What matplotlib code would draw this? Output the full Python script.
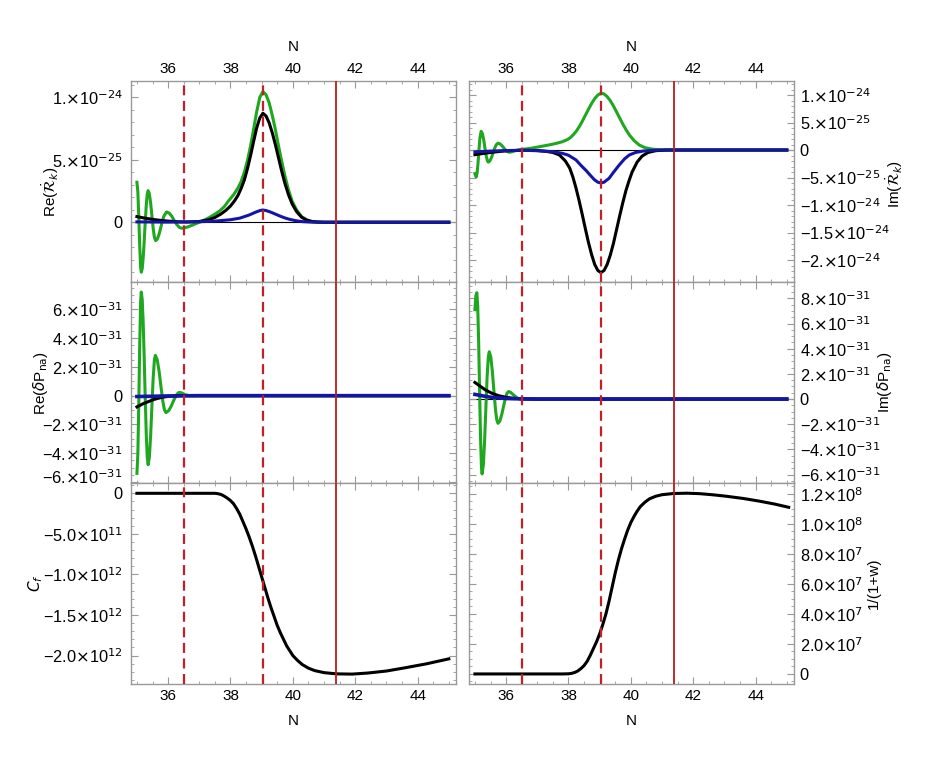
import matplotlib
matplotlib.use("Agg")
import matplotlib.pyplot as plt
import matplotlib.transforms as mtransforms
from matplotlib.ticker import FixedLocator, MultipleLocator

plt.rcParams['font.family'] = ['Liberation Sans', 'DejaVu Sans']
plt.rcParams['mathtext.fontset'] = 'dejavusans'

# ---------------- data (values in the unit noted per panel) ----------------
# reference lines in N
n_dashed = [36.5, 39.04]
n_solid = [41.37]

# top-left: Re(dR_k/dN), units of 1e-25
n_tl_green = [35.00, 35.03, 35.06, 35.09, 35.12, 35.14, 35.17, 35.20, 35.23, 35.26, 35.30, 35.33,
              35.36, 35.40, 35.44, 35.48, 35.52, 35.56, 35.60, 35.65, 35.70, 35.75, 35.80, 35.86,
              35.95, 36.04, 36.12, 36.20, 36.28, 36.36, 36.43, 36.52, 36.62, 36.75, 36.90, 37.05,
              37.20, 37.35, 37.50, 37.65, 37.80, 37.95, 38.10, 38.24, 38.34, 38.44, 38.54, 38.64,
              38.74, 38.84, 38.94, 39.04, 39.14, 39.24, 39.34, 39.44, 39.54, 39.64, 39.74, 39.86,
              39.98, 40.12, 40.28, 40.44, 40.60, 40.77, 41.0, 41.5, 42.5, 43.5, 45.0]
re_r_green = [3.2, 2.42, 0.39, -1.96, -3.64, -4.0, -3.71, -2.87, -1.66, -0.27, 1.40, 2.23,
              2.53, 2.26, 1.53, 0.53, -0.47, -1.2, -1.47, -1.36, -1.04, -0.58, -0.06, 0.47,
              0.83, 0.72, 0.47, 0.13, -0.19, -0.41, -0.48, -0.45, -0.38, -0.26, -0.1, 0.05,
              0.22, 0.42, 0.65, 0.9, 1.25, 1.75, 2.2, 2.75, 3.25, 3.97, 4.9, 6.06,
              7.43, 8.85, 10.0, 10.45, 10.2, 9.55, 8.55, 7.4, 6.1, 4.9, 3.75, 2.58,
              1.66, 0.98, 0.45, 0.2, 0.07, 0.02, 0.0, 0.0, 0.0, 0.0, 0.0]
n_tl_black = [35.0, 35.25, 35.5, 35.75, 36.0, 36.3, 36.6, 37.0, 37.3, 37.5, 37.7, 37.85, 38.0,
              38.14, 38.24, 38.34, 38.44, 38.54, 38.64, 38.74, 38.84, 38.94, 39.04, 39.14, 39.24,
              39.34, 39.44, 39.54, 39.64, 39.74, 39.86, 39.98, 40.12, 40.28, 40.44, 40.6, 40.8,
              41.0, 42.0, 45.0]
re_r_black = [0.45, 0.33, 0.23, 0.15, 0.09, 0.04, 0.02, 0.06, 0.2, 0.38, 0.67, 0.95, 1.3,
              1.75, 2.15, 2.7, 3.35, 4.25, 5.3, 6.45, 7.55, 8.35, 8.72, 8.5, 7.95,
              7.15, 6.2, 5.15, 4.1, 3.15, 2.2, 1.45, 0.85, 0.4, 0.17, 0.06, 0.015,
              0.0, 0.0, 0.0]
n_tl_blue = [35.0, 36.0, 37.0, 37.5, 38.0, 38.3, 38.6, 38.8, 38.95, 39.04, 39.15, 39.3, 39.45,
             39.6, 39.75, 39.9, 40.1, 40.3, 40.6, 41.0, 45.0]
re_r_blue = [0.03, 0.01, 0.04, 0.09, 0.2, 0.33, 0.58, 0.8, 0.94, 0.98, 0.93, 0.8, 0.64,
             0.48, 0.34, 0.23, 0.12, 0.05, 0.01, 0.0, 0.0]

# top-right: Im(dR_k/dN), units of 1e-25
n_tr_green = [35.00, 35.04, 35.07, 35.10, 35.13, 35.16, 35.20, 35.24, 35.28, 35.32, 35.36, 35.40,
              35.43, 35.48, 35.53, 35.58, 35.63, 35.68, 35.74, 35.80, 35.86, 35.92, 35.98, 36.04,
              36.10, 36.20, 36.30, 36.40, 36.50, 36.80, 37.07, 37.40, 37.60, 37.80, 37.95, 38.05,
              38.15, 38.24, 38.34, 38.44, 38.54, 38.64, 38.74, 38.84, 38.94, 39.04, 39.14, 39.24,
              39.34, 39.44, 39.54, 39.64, 39.74, 39.84, 39.96, 40.10, 40.27, 40.45, 40.70, 41.0,
              41.37, 45.0]
im_r_green = [-4.3, -4.9, -4.2, -2.34, 0.06, 2.18, 3.4, 2.99, 1.89, 0.4, -1.02, -1.97,
              -2.2, -1.98, -1.38, -0.56, 0.28, 0.93, 1.25, 1.14, 0.84, 0.43, 0.01, -0.29,
              -0.4, -0.3, -0.12, 0.02, 0.1, 0.32, 0.6, 0.95, 1.2, 1.5, 1.85, 2.2,
              2.75, 3.35, 4.2, 5.2, 6.3, 7.4, 8.45, 9.35, 10.0, 10.35, 10.19, 9.71,
              8.97, 8.02, 6.94, 5.83, 4.74, 3.73, 2.68, 1.73, 0.9, 0.43, 0.15, 0.04,
              0.0, 0.0]
n_tr_black = [35.0, 35.3, 35.6, 35.9, 36.2, 36.5, 36.8, 37.0, 37.28, 37.5, 37.71, 37.9, 38.04,
              38.14, 38.24, 38.34, 38.44, 38.54, 38.64, 38.74, 38.84, 38.94, 39.04, 39.14, 39.24,
              39.34, 39.44, 39.54, 39.64, 39.74, 39.84, 39.94, 40.04, 40.2, 40.36, 40.55, 40.8,
              41.1, 41.5, 45.0]
im_r_black = [-0.85, -0.6, -0.38, -0.2, -0.1, -0.05, -0.07, -0.1, -0.25, -0.45, -0.9, -2.0, -3.3,
              -4.9, -6.9, -9.2, -11.7, -14.3, -16.8, -19.0, -20.8, -21.9, -22.3, -21.9, -20.8,
              -19.1, -17.0, -14.5, -12.0, -9.6, -7.4, -5.6, -4.0, -2.2, -1.1, -0.45, -0.12,
              -0.02, 0.0, 0.0]
n_tr_blue = [35.0, 35.5, 36.0, 36.5, 37.0, 37.5, 37.8, 38.0, 38.24, 38.4, 38.56, 38.7, 38.83,
             38.94, 39.04, 39.14, 39.3, 39.45, 39.63, 39.8, 39.95, 40.15, 40.38, 40.7, 41.2, 45.0]
im_r_blue = [-0.35, -0.2, -0.1, -0.05, -0.12, -0.3, -0.6, -0.95, -1.8, -2.8, -3.7, -4.6, -5.4,
             -5.85, -6.0, -5.85, -5.15, -4.0, -2.7, -1.6, -0.9, -0.45, -0.2, -0.05, 0.0, 0.0]

# middle-left: Re(dP_na), units of 1e-31
n_ml_green = [35.00, 35.03, 35.06, 35.09, 35.12, 35.14, 35.17, 35.20, 35.23, 35.26, 35.30, 35.33,
              35.36, 35.40, 35.44, 35.48, 35.52, 35.56, 35.59, 35.65, 35.71, 35.77, 35.83, 35.88,
              35.93, 36.02, 36.10, 36.18, 36.26, 36.32, 36.37, 36.45, 36.55, 36.70, 37.0, 45.0]
re_p_green = [-5.4, -4.03, -0.5, 3.63, 6.58, 7.2, 6.66, 5.13, 2.89, 0.35, -2.72, -4.25,
              -4.8, -4.24, -2.75, -0.73, 1.2, 2.48, 2.8, 2.5, 1.71, 0.63, -0.38, -0.97,
              -1.18, -1.04, -0.725, -0.325, 0.02, 0.19, 0.23, 0.18, 0.06, 0.0, 0.0, 0.0]
n_ml_black = [35.0, 35.2, 35.36, 35.55, 35.79, 36.0, 36.3, 36.6, 45.0]
re_p_black = [-0.78, -0.56, -0.42, -0.26, -0.12, -0.05, -0.01, 0.0, 0.0]
n_ml_blue = [35.0, 36.0, 37.0, 45.0]
re_p_blue = [-0.06, -0.02, 0.0, 0.0]

# middle-right: Im(dP_na), units of 1e-31
n_mr_green = [35.00, 35.03, 35.06, 35.09, 35.12, 35.15, 35.18, 35.21, 35.23, 35.27, 35.31, 35.35,
              35.39, 35.43, 35.46, 35.51, 35.56, 35.61, 35.66, 35.70, 35.74, 35.80, 35.86, 35.92,
              35.98, 36.03, 36.08, 36.15, 36.25, 36.35, 36.45, 37.0, 45.0]
im_p_green = [7.1, 8.2, 8.45, 7.38, 4.49, 0.59, -3.07, -5.46, -5.95, -5.24, -3.33, -0.76,
              1.72, 3.36, 3.76, 3.33, 2.15, 0.6, -0.86, -1.65, -1.93, -1.74, -1.23, -0.55,
              0.09, 0.47, 0.6, 0.52, 0.3, 0.1, 0.0, 0.0, 0.0]
n_mr_black = [35.0, 35.15, 35.34, 35.55, 35.77, 36.0, 36.2, 36.5, 37.0, 45.0]
im_p_black = [1.32, 1.05, 0.72, 0.45, 0.26, 0.14, 0.07, 0.02, 0.0, 0.0]
n_mr_blue = [35.0, 35.25, 35.55, 35.9, 36.2, 36.6, 37.0, 45.0]
im_p_blue = [0.37, 0.25, 0.13, 0.06, 0.03, 0.01, 0.0, 0.0]

# bottom-left: C_f, units of 1e12
n_cf = [35.0, 36.0, 37.0, 37.5, 37.6, 37.7, 37.8, 37.9, 38.0, 38.1, 38.2, 38.3, 38.4, 38.5,
        38.6, 38.7, 38.8, 38.9, 39.0, 39.1, 39.2, 39.3, 39.4, 39.5, 39.6, 39.7, 39.8, 39.9,
        40.0, 40.15, 40.3, 40.5, 40.7, 41.0, 41.4, 41.9, 42.4, 43.0, 43.6, 44.3, 45.0]
c_f = [0.0, 0.0, 0.0, 0.0, -0.005, -0.015, -0.035, -0.06, -0.09, -0.13, -0.19, -0.26, -0.35, -0.44,
       -0.54, -0.65, -0.77, -0.9, -1.03, -1.16, -1.29, -1.41, -1.52, -1.63, -1.72, -1.8, -1.88, -1.94,
       -2.0, -2.06, -2.11, -2.155, -2.185, -2.21, -2.225, -2.228, -2.215, -2.19, -2.15, -2.1, -2.04]

# bottom-right: 1/(1+w), units of 1e7
n_w = [35.0, 36.0, 37.0, 37.8, 38.0, 38.1, 38.2, 38.3, 38.4, 38.5, 38.6, 38.7, 38.8, 38.9,
       39.0, 39.1, 39.2, 39.3, 39.4, 39.5, 39.6, 39.7, 39.8, 39.9, 40.0, 40.1, 40.2, 40.3,
       40.45, 40.6, 40.8, 41.0, 41.37, 41.8, 42.2, 42.6, 43.05, 43.6, 44.12, 44.6, 45.06]
inv_w = [0.0, 0.0, 0.0, 0.0, 0.01, 0.04, 0.1, 0.2, 0.36, 0.56, 0.85, 1.25, 1.7, 2.15,
         2.68, 3.3, 4.0, 4.85, 5.8, 6.75, 7.6, 8.35, 9.0, 9.6, 10.1, 10.5, 10.85, 11.15,
         11.45, 11.68, 11.85, 11.95, 12.03, 12.05, 12.02, 11.95, 11.85, 11.7, 11.52, 11.33, 11.11]

# ticks
x_ticks = [36, 38, 40, 42, 44]
X = r'$\times$'
tl_ticks = [0, 5, 10]
tl_labels = ['0', '5.' + X + '10$^{-25}$', '1.' + X + '10$^{-24}$']
tr_ticks = [-20, -15, -10, -5, 0, 5, 10]
tr_labels = ['−2.' + X + '10$^{-24}$', '−1.5' + X + '10$^{-24}$', '−1.' + X + '10$^{-24}$',
             '−5.' + X + '10$^{-25}$', '0', '5.' + X + '10$^{-25}$', '1.' + X + '10$^{-24}$']
ml_ticks = [-6, -4, -2, 0, 2, 4, 6]
ml_labels = ['−6.' + X + '10$^{-31}$', '−4.' + X + '10$^{-31}$', '−2.' + X + '10$^{-31}$', '0',
             '2.' + X + '10$^{-31}$', '4.' + X + '10$^{-31}$', '6.' + X + '10$^{-31}$']
mr_ticks = [-6, -4, -2, 0, 2, 4, 6, 8]
mr_labels = ['−6.' + X + '10$^{-31}$', '−4.' + X + '10$^{-31}$', '−2.' + X + '10$^{-31}$', '0',
             '2.' + X + '10$^{-31}$', '4.' + X + '10$^{-31}$', '6.' + X + '10$^{-31}$',
             '8.' + X + '10$^{-31}$']
bl_ticks = [-2.0, -1.5, -1.0, -0.5, 0]
bl_labels = ['−2.0' + X + '10$^{12}$', '−1.5' + X + '10$^{12}$', '−1.0' + X + '10$^{12}$',
             '−5.0' + X + '10$^{11}$', '0']
br_ticks = [0, 2, 4, 6, 8, 10, 12]
br_labels = ['0', '2.0' + X + '10$^{7}$', '4.0' + X + '10$^{7}$', '6.0' + X + '10$^{7}$',
             '8.0' + X + '10$^{7}$', '1.0' + X + '10$^{8}$', '1.2' + X + '10$^{8}$']

GREEN = '#1fa81f'
BLACK = '#000000'
BLUE = '#1414a8'
RED_D = '#c0202a'
RED_S = '#b81c1c'
FRAME = '#999999'
FS = 11
FS_Y = 11.75

fig = plt.figure(figsize=(9.26, 7.66), dpi=100)
W, H = 926.0, 766.0
cols = [131, 469]
rows = [(81, 282), (282, 483), (483, 684)]
axes = {}
for r, (y0, y1) in enumerate(rows):
    for c, x0 in enumerate(cols):
        axes[(r, c)] = fig.add_axes([x0 / W, 1 - y1 / H, 325 / W, (y1 - y0) / H])


def style(ax, right, xpos, yt, yl, ylim, yminor, ylabel, lab_x, lab_y=0.5):
    ax.set_xlim(34.81, 45.23)
    ax.set_ylim(*ylim)
    for s in ax.spines.values():
        s.set_color(FRAME)
        s.set_linewidth(1.0)
    ax.xaxis.set_major_locator(FixedLocator(x_ticks))
    ax.xaxis.set_minor_locator(MultipleLocator(0.5))
    ax.yaxis.set_major_locator(FixedLocator(yt))
    ax.yaxis.set_minor_locator(MultipleLocator(yminor))
    ax.set_yticklabels(yl)
    ax.tick_params(which='both', direction='in', top=True, bottom=True, left=True, right=True,
                   color=FRAME)
    ax.tick_params(axis='x', labelsize=FS)
    ax.tick_params(axis='y', labelsize=FS_Y)
    ax.tick_params(which='major', length=5)
    ax.tick_params(which='minor', length=2.5)
    ax.tick_params(axis='x', labelbottom=(xpos == 'bottom'), labeltop=(xpos == 'top'))
    if xpos == 'top':
        ax.xaxis.set_label_position('top')
        ax.set_xlabel('N', fontsize=FS, labelpad=8)
    elif xpos == 'bottom':
        ax.set_xlabel('N', fontsize=FS, labelpad=8)
    if right:
        ax.tick_params(axis='y', labelleft=False, labelright=True, pad=4)
        ax.yaxis.set_label_position('right')
    else:
        ax.tick_params(axis='y', pad=6)
    ax.set_ylabel(ylabel, fontsize=FS)
    ax.yaxis.set_label_coords(lab_x, lab_y)


def refs(ax):
    for n in n_dashed:
        ax.axvline(n, color=RED_D, lw=1.6, ls=(0, (4.5, 2.5)), zorder=5)
    for n in n_solid:
        ax.axvline(n, color=RED_S, lw=1.3, zorder=5)


lw = 2.2

ax = axes[(0, 0)]
ax.axhline(0, color='black', lw=0.8, zorder=1)
ax.plot(n_tl_green, re_r_green, color=GREEN, lw=lw, zorder=2)
ax.plot(n_tl_black, re_r_black, color=BLACK, lw=lw, zorder=3)
ax.plot(n_tl_blue, re_r_blue, color=BLUE, lw=lw, zorder=4)
refs(ax)
style(ax, False, 'top', tl_ticks, tl_labels, (-4.78, 11.3), 1, r'Re($\dot{\mathcal{R}}_k$)',
      -0.215, 0.45)

ax = axes[(0, 1)]
ax.axhline(0, color='black', lw=0.8, zorder=1)
ax.plot(n_tr_green, im_r_green, color=GREEN, lw=lw, zorder=2)
ax.plot(n_tr_black, im_r_black, color=BLACK, lw=lw, zorder=3)
ax.plot(n_tr_blue, im_r_blue, color=BLUE, lw=lw, zorder=4)
refs(ax)
style(ax, True, 'top', tr_ticks, tr_labels, (-24.0, 12.55), 1, r'Im($\dot{\mathcal{R}}_k$)',
      1.275, 0.49)

ax = axes[(1, 0)]
ax.axhline(0, color='black', lw=0.8, zorder=1)
ax.plot(n_ml_green, re_p_green, color=GREEN, lw=lw, zorder=2)
ax.plot(n_ml_black, re_p_black, color=BLACK, lw=lw, zorder=3)
ax.plot(n_ml_blue, re_p_blue, color=BLUE, lw=lw + 0.4, zorder=4)
refs(ax)
style(ax, False, None, ml_ticks, ml_labels, (-6.07, 7.9), 0.5, r'Re($\delta$P$_{\mathrm{na}}$)',
      -0.25)
# nudge the lowest label up so it clears the "0" of the panel below
low = ax.get_yticklabels()[0]
low.set_transform(low.get_transform() + mtransforms.ScaledTranslation(0, 4.5 / 72, fig.dpi_scale_trans))

ax = axes[(1, 1)]
ax.axhline(0, color='black', lw=0.8, zorder=1)
ax.plot(n_mr_green, im_p_green, color=GREEN, lw=lw, zorder=2)
ax.plot(n_mr_black, im_p_black, color=BLACK, lw=lw, zorder=3)
ax.plot(n_mr_blue, im_p_blue, color=BLUE, lw=lw + 0.4, zorder=4)
refs(ax)
style(ax, True, None, mr_ticks, mr_labels, (-6.67, 9.3), 0.5, r'Im($\delta$P$_{\mathrm{na}}$)',
      1.25)

ax = axes[(2, 0)]
ax.plot(n_cf, c_f, color=BLACK, lw=lw, zorder=3)
refs(ax)
style(ax, False, 'bottom', bl_ticks, bl_labels, (-2.35, 0.127), 0.1, r'$C_f$', -0.265)

ax = axes[(2, 1)]
ax.plot(n_w, inv_w, color=BLACK, lw=lw, zorder=3)
refs(ax)
style(ax, True, 'bottom', br_ticks, br_labels, (-0.67, 12.73), 0.5, '1/(1+w)', 1.225)

fig.savefig('out.png', dpi=100)
